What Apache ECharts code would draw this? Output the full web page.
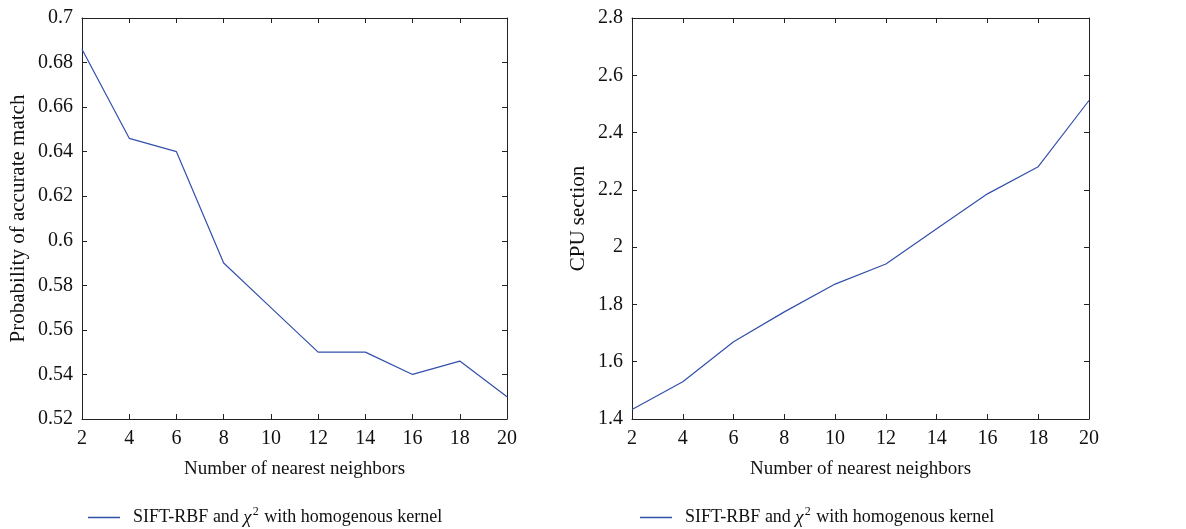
<!DOCTYPE html>
<html>
<head>
<meta charset="utf-8">
<script src="https://cdn.jsdelivr.net/npm/echarts@6/dist/echarts.min.js"></script>
<style>
html,body{margin:0;padding:0;background:#fff;}
#c{width:1186px;height:529px;}
</style>
</head>
<body>
<div id="c"></div>
<script>
const neighbors = [2, 4, 6, 8, 10, 12, 14, 16, 18, 20];
const matchProb = [0.686, 0.646, 0.640, 0.590, 0.570, 0.550, 0.550, 0.540, 0.546, 0.530];
const cpuTime = [1.433, 1.530, 1.670, 1.774, 1.871, 1.941, 2.064, 2.186, 2.281, 2.512];
const seriesName = 'SIFT-RBF and chi2 with homogenous kernel';

const FONT = 'Liberation Serif';
const FS = 20;
const AX = '#222';
const LINE = '#3350aa';

function xAxes(gi) {
  const base = {
    type: 'value', gridIndex: gi, min: 2, max: 20, interval: 2,
    axisLine: {show: true, lineStyle: {color: AX, width: 1}},
    axisTick: {show: true, inside: true, length: 5, lineStyle: {color: AX}},
    splitLine: {show: false}
  };
  return [
    Object.assign({}, base, {
      position: 'bottom',
      name: 'Number of nearest neighbors', nameLocation: 'middle', nameGap: 41,
      nameTextStyle: {fontFamily: FONT, fontSize: 19, color: '#111'},
      axisLabel: {fontFamily: FONT, fontSize: FS, color: '#111', margin: 10}
    }),
    Object.assign({}, base, {position: 'top', axisLabel: {show: false}})
  ];
}
function yAxes(gi, min, max, interval, name, gap, margin) {
  const base = {
    type: 'value', gridIndex: gi, min: min, max: max, interval: interval,
    axisLine: {show: true, lineStyle: {color: AX, width: 1}},
    axisTick: {show: true, inside: true, length: 5, lineStyle: {color: AX}},
    splitLine: {show: false}
  };
  return [
    Object.assign({}, base, {
      position: 'left',
      name: name, nameLocation: 'middle', nameGap: gap,
      nameTextStyle: {fontFamily: FONT, fontSize: 21, color: '#111'},
      axisLabel: {fontFamily: FONT, fontSize: FS, color: '#111', margin: margin,
        formatter: v => String(+v.toFixed(3))}
    }),
    Object.assign({}, base, {position: 'right', axisLabel: {show: false}})
  ];
}

function legend(left) {
  return {
    left: left, top: 506, padding: 0, itemWidth: 32, itemHeight: 1.5, icon: 'rect', itemGap: 0,
    data: [{name: seriesName, itemStyle: {color: LINE}}],
    selectedMode: false,
    textStyle: {
      fontFamily: FONT, fontSize: 18, color: '#111', padding: [0, 0, 0, 8],
      rich: {
        a: {fontFamily: FONT, fontSize: 18, color: '#111'},
        i: {fontFamily: FONT, fontSize: 19, fontStyle: 'italic', color: '#111'},
        s: {fontFamily: FONT, fontSize: 12, color: '#111', padding: [0, 1, 11, 1]}
      }
    },
    formatter: () => '{a|SIFT-RBF and }{i|χ}{s|2}{a| with homogenous kernel}'
  };
}

const chart = echarts.init(document.getElementById('c'), null, {renderer: 'canvas'});
chart.setOption({
  animation: false,
  backgroundColor: '#fff',
  grid: [
    {left: 82, right: 679, top: 18, bottom: 110},
    {left: 632, right: 97, top: 18, bottom: 110}
  ],
  xAxis: [].concat(xAxes(0), xAxes(1)),
  yAxis: [].concat(
    yAxes(0, 0.52, 0.7, 0.02, 'Probability of accurate match', 53, 9),
    yAxes(1, 1.4, 2.8, 0.2, 'CPU section', 43, 9)
  ),
  legend: [legend(88), legend(640)],
  series: [
    {type: 'line', name: seriesName, xAxisIndex: 0, yAxisIndex: 0, symbol: 'none',
     lineStyle: {color: LINE, width: 1.2}, itemStyle: {color: LINE},
     data: neighbors.map((x, i) => [x, matchProb[i]])},
    {type: 'line', name: seriesName, xAxisIndex: 2, yAxisIndex: 2, symbol: 'none',
     lineStyle: {color: LINE, width: 1.2}, itemStyle: {color: LINE},
     data: neighbors.map((x, i) => [x, cpuTime[i]])}
  ]
});
</script>
</body>
</html>
